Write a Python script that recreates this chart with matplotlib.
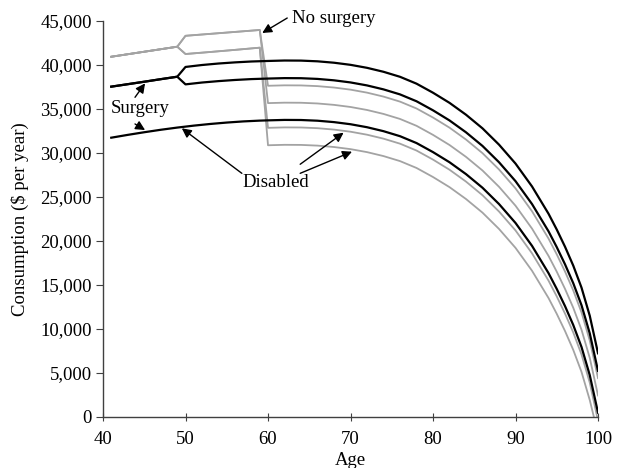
import matplotlib
matplotlib.use("Agg")
import matplotlib.pyplot as plt
from matplotlib.ticker import FuncFormatter

plt.rcParams['font.family'] = ['Liberation Serif', 'DejaVu Serif']

########## DATA ##########

# ages 41-49, before the branches split
age_shared = [41, 43, 45, 47, 49]
black_shared = [37540, 37820, 38100, 38390, 38670]
gray_shared = [40940, 41225, 41510, 41795, 42080]

# ages 50-58/59, working years after the split
age_work_black = [50, 52, 54, 56, 58]
black_upper_work = [39780, 40000, 40170, 40300, 40400]
black_lower_work = [37800, 38010, 38170, 38300, 38400]

age_work_gray = [50, 53, 56, 59]
gray_upper_work = [43320, 43540, 43760, 43980]
gray_lower_work = [41250, 41480, 41720, 41970]

# disabled, with surgery: ages 41-59
age_dis_pre = [41, 43, 45, 47, 49, 51, 53, 55, 57, 59]
black_dis_pre = [31740, 32060, 32360, 32640, 32890, 33110, 33300, 33460, 33590, 33680]

# retirement, ages 60-100
age_ret = [60, 62, 64, 66, 68, 70, 72, 74, 76, 78, 80, 82, 84, 86, 88, 90,
           92, 94, 95, 96, 97, 98, 99, 100]
surg_1 = [40460, 40510, 40500, 40420, 40260, 40020, 39680, 39230, 38660, 37880,
          36850, 35700, 34350, 32800, 30950, 28800, 26200, 23100, 21300, 19350,
          17200, 14700, 11500, 7240]
surg_2 = [38460, 38510, 38500, 38420, 38260, 38020, 37680, 37230, 36660, 35880,
          34850, 33700, 32350, 30800, 28950, 26800, 24200, 21100, 19300, 17350,
          15200, 12700, 9500, 5240]
surg_dis = [33710, 33760, 33750, 33670, 33510, 33270, 32930, 32480, 31910, 31130,
            30100, 28950, 27600, 26050, 24200, 22050, 19450, 16350, 14550, 12600,
            10450, 7950, 4750, 490]
nosurg_1 = [37640, 37690, 37680, 37600, 37440, 37200, 36860, 36410, 35840, 35060,
            34030, 32880, 31530, 29980, 28130, 25980, 23380, 20280, 18480, 16530,
            14380, 11880, 8680, 4420]
nosurg_2 = [35670, 35720, 35710, 35630, 35470, 35230, 34890, 34440, 33870, 33090,
            32060, 30910, 29560, 28010, 26160, 24010, 21410, 18310, 16510, 14560,
            12410, 9910, 6710, 2450]
age_ret_d1 = age_ret[:-1] + [99.9]
nosurg_dis_1 = [32860, 32910, 32900, 32820, 32660, 32420, 32080, 31630, 31060, 30280,
                29250, 28100, 26750, 25200, 23350, 21200, 18600, 15500, 13700, 11750,
                9600, 7100, 3900, 0]
age_ret_d2 = age_ret[:-2] + [99, 99.5]
nosurg_dis_2 = [30880, 30930, 30920, 30840, 30680, 30440, 30100, 29650, 29080, 28300,
                27270, 26120, 24770, 23220, 21370, 19220, 16620, 13520, 11720, 9770,
                7620, 5120, 1920, 0]

########## PLOT ##########

fig = plt.figure(figsize=(6.19, 4.68), dpi=100)
ax = fig.add_axes([0.1664, 0.1090, 0.7997, 0.8461])

gray = '#a3a3a3'
lw_g = 1.3
lw_b = 1.6

for pre_age, pre_val, a, v in [
    (age_work_gray, gray_upper_work, age_ret, nosurg_1),
    (age_work_gray, gray_upper_work, age_ret, nosurg_2),
    (age_work_gray, gray_lower_work, age_ret_d1, nosurg_dis_1),
    (age_work_gray, gray_lower_work, age_ret_d2, nosurg_dis_2),
]:
    ax.plot(age_shared + pre_age + a, gray_shared + pre_val + v, color=gray, lw=lw_g)

ax.plot(age_shared + age_work_black + age_ret, black_shared + black_upper_work + surg_1,
        color='black', lw=lw_b)
ax.plot(age_shared + age_work_black + age_ret, black_shared + black_lower_work + surg_2,
        color='black', lw=lw_b)
ax.plot(age_dis_pre + age_ret, black_dis_pre + surg_dis, color='black', lw=lw_b)

ax.set_xlim(40, 100)
ax.set_ylim(0, 45000)
ax.set_xticks([40, 50, 60, 70, 80, 90, 100])
ax.set_yticks(range(0, 45001, 5000))
ax.yaxis.set_major_formatter(FuncFormatter(lambda v, p: f"{int(v):,}"))

for s in ['top', 'right']:
    ax.spines[s].set_visible(False)
for s in ['left', 'bottom']:
    ax.spines[s].set_color('#404040')
    ax.spines[s].set_linewidth(1.0)
ax.tick_params(axis='y', direction='out', length=5, pad=3, labelsize=13.5, color='#404040')
ax.tick_params(axis='x', direction='inout', length=6, pad=7, labelsize=13.5, color='#404040')

ax.set_xlabel('Age', fontsize=13.5)
ax.set_ylabel('Consumption ($ per year)', fontsize=13.5)
ax.xaxis.set_label_coords(0.5, -0.088)
ax.yaxis.set_label_coords(-0.1495, 0.5)

# annotations
arrow = dict(arrowstyle='-|>', color='black', lw=1.0, mutation_scale=14,
             shrinkA=0, shrinkB=0)
fs = 13.5
ax.text(62.94, 45340, 'No surgery', fontsize=fs, ha='left', va='center')
ax.annotate('', xy=(59.3, 43640), xytext=(62.33, 45340), arrowprops=arrow,
            annotation_clip=False)

ax.text(44.49, 35080, 'Surgery', fontsize=fs, ha='center', va='center')
ax.annotate('', xy=(45.10, 37920), xytext=(43.88, 36330), arrowprops=arrow)
ax.annotate('', xy=(45.10, 32610), xytext=(43.88, 33300), arrowprops=arrow)

ax.text(61.0, 26625, 'Disabled', fontsize=fs, ha='center', va='center')
ax.annotate('', xy=(49.55, 32810), xytext=(56.83, 27690), arrowprops=arrow)
ax.annotate('', xy=(69.16, 32310), xytext=(63.9, 28720), arrowprops=arrow)
ax.annotate('', xy=(70.18, 30150), xytext=(63.9, 27690), arrowprops=arrow)

fig.savefig('out.png', dpi=100)
plt.close(fig)
